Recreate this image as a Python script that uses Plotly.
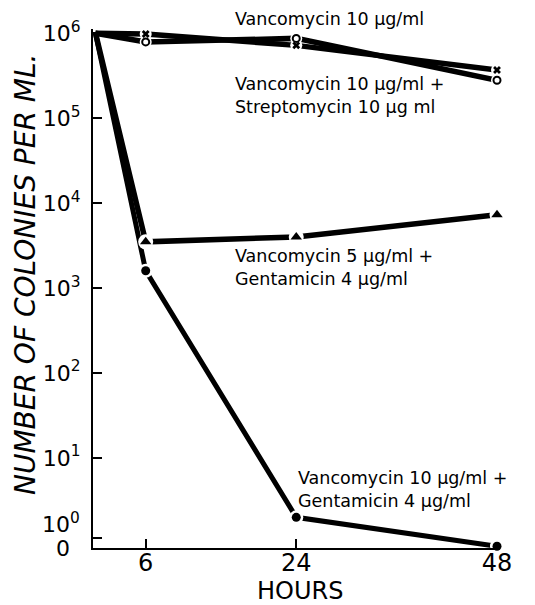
import numpy as np
import plotly.graph_objects as go

# ---- data ----
hours = [0, 6, 24, 48]
vanco10 = [1.0e6, 9.8e5, 7.2e5, 3.7e5]            # "x" markers
vanco10_strep10 = [1.0e6, 7.9e5, 8.7e5, 2.8e5]    # open circles
vanco5_genta4 = [1.0e6, 3.5e3, 4.0e3, 7.3e3]      # triangles
vanco10_genta4 = [1.0e6, 1.6e3, 2.0, 0]           # filled dots

x_tick_vals = [6, 24, 48]
x_tick_text = ["6", "24", "48"]
y_decades = [6, 5, 4, 3, 2, 1]
y_tick_text = ["10<sup>%d</sup>" % d for d in y_decades]

ZERO_LEVEL = -0.04   # where a count of 0 sits on this axis


def level(values):
    return [np.log10(v) if v > 0 else ZERO_LEVEL for v in values]


FONT = "DejaVu Sans"
W, H = 535, 605
ML, MR, MT, MB = 93, 38, 29, 57
PW, PH = W - ML - MR, H - MT - MB


def px(x):
    return (x - ML) / PW


def py(y):
    return (H - MB - y) / PH


fig = go.Figure()

series = [
    (vanco10, "x", 7, 5.5),
    (vanco10_strep10, "circle-open", 7, 5.5),
    (vanco5_genta4, "triangle-up", 10, 5.5),
    (vanco10_genta4, "circle", 9, 5),
]

for vals, sym, sz, lw in series:
    fig.add_trace(go.Scatter(x=hours, y=level(vals), mode="lines",
                             line=dict(color="black", width=lw),
                             showlegend=False, hoverinfo="skip"))
for vals, sym, sz, lw in series:
    fig.add_trace(go.Scatter(x=hours[1:], y=level(vals)[1:], mode="markers",
                             marker=dict(symbol="circle", size=sz + 5, color="white"),
                             showlegend=False, hoverinfo="skip", cliponaxis=False))
for vals, sym, sz, lw in series:
    mk = dict(symbol=sym, size=sz, color="black",
              line=dict(color="black", width=2 if sym == "circle-open" else 0))
    fig.add_trace(go.Scatter(x=hours[1:], y=level(vals)[1:], mode="markers",
                             marker=mk, showlegend=False, cliponaxis=False))

ann_font = dict(family=FONT, size=17.5, color="black")
labels = [
    (233, 19, "Vancomycin 10 μg/ml"),
    (233, 95, "Vancomycin 10 μg/ml +<br>Streptomycin 10 μg ml"),
    (233, 267, "Vancomycin 5 μg/ml +<br>Gentamicin 4 μg/ml"),
    (296, 489, "Vancomycin 10 μg/ml +<br>Gentamicin 4 μg/ml"),
]
for x, y, t in labels:
    fig.add_annotation(x=px(x), y=py(y), xref="paper", yref="paper", text=t,
                       showarrow=False, xanchor="left", yanchor="middle",
                       align="left", font=ann_font)

fig.add_annotation(x=px(82), y=py(523), xref="paper", yref="paper", text="10<sup>0</sup>",
                   showarrow=False, xanchor="right", yanchor="middle",
                   font=dict(family=FONT, size=22, color="black"))
fig.add_annotation(x=px(72), y=py(548), xref="paper", yref="paper", text="0",
                   showarrow=False, xanchor="right", yanchor="middle",
                   font=dict(family=FONT, size=22, color="black"))
fig.add_annotation(x=px(300), y=py(591), xref="paper", yref="paper", text="HOURS",
                   showarrow=False, xanchor="center", yanchor="middle",
                   font=dict(family=FONT, size=24, color="black"))
fig.add_annotation(x=px(25), y=py(275), xref="paper", yref="paper",
                   text="<i>NUMBER OF COLONIES PER ML.</i>",
                   showarrow=False, textangle=-90, xanchor="center", yanchor="middle",
                   font=dict(family=FONT, size=28, color="black"))

fig.update_layout(
    width=W, height=H,
    margin=dict(l=ML, r=MR, t=MT, b=MB),
    paper_bgcolor="white", plot_bgcolor="white",
    font=dict(family=FONT, color="black"),
)
fig.update_xaxes(range=[-0.3, 48], tickvals=x_tick_vals, ticktext=x_tick_text,
                 ticks="inside", ticklen=9, tickwidth=2, tickcolor="black",
                 showline=True, linewidth=2, linecolor="black",
                 showgrid=False, zeroline=False,
                 tickfont=dict(family=FONT, size=24), ticklabelstandoff=-8)
fig.update_yaxes(range=[-0.06, 6.05], tickvals=y_decades + [0.055], ticktext=y_tick_text + [""],
                 ticks="inside", ticklen=9, tickwidth=2, tickcolor="black",
                 showline=True, linewidth=2, linecolor="black",
                 showgrid=False, zeroline=False,
                 tickfont=dict(family=FONT, size=22), ticklabelstandoff=6)

fig.write_html("out.html", config={"displayModeBar": False},
               post_script="document.body.style.margin='0';")
